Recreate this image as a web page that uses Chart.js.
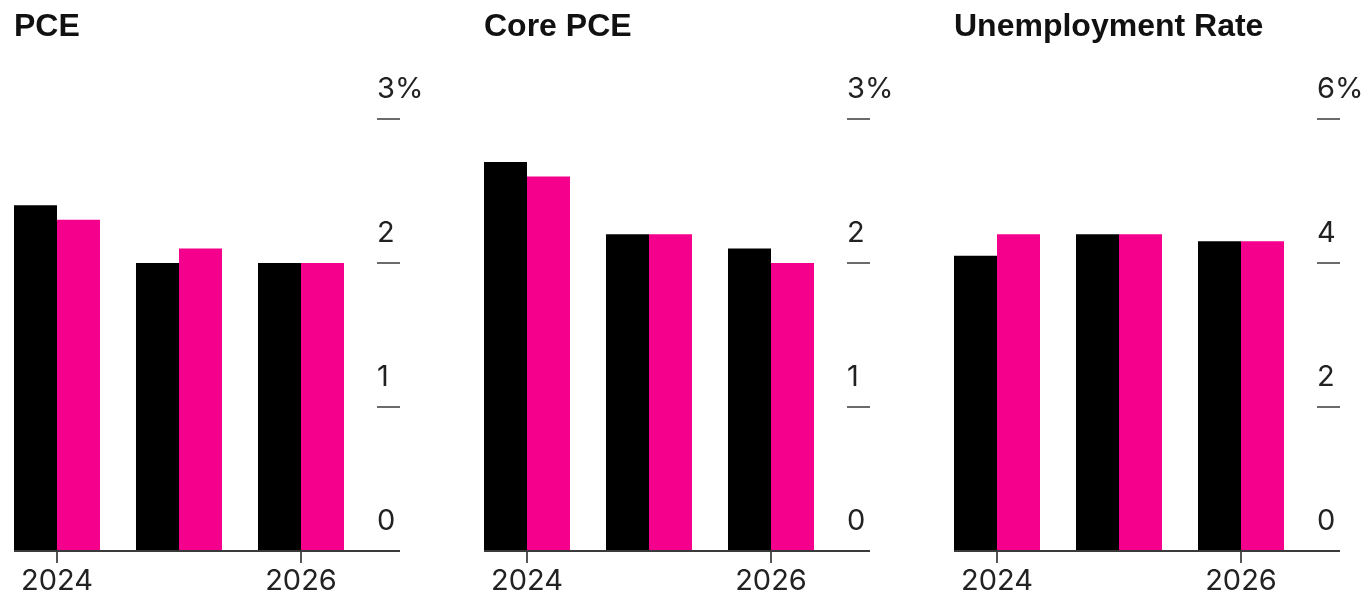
<!DOCTYPE html>
<html>
<head>
<meta charset="utf-8">
<script src="https://cdn.jsdelivr.net/npm/chart.js@4"></script>
<style>
  html, body { margin: 0; padding: 0; background: #ffffff; }
  #wrap { position: relative; width: 1371px; height: 596px; overflow: hidden; }
  .panel { position: absolute; top: 0; }
</style>
</head>
<body>
<div id="wrap">
  <canvas id="c1" class="panel" width="470" height="596" style="left:0px"></canvas>
  <canvas id="c2" class="panel" width="470" height="596" style="left:470px"></canvas>
  <canvas id="c3" class="panel" width="431" height="596" style="left:940px"></canvas>
</div>
<script>
// ---- data ----
const years = [2024, 2025, 2026];
const xTickYears = [2024, 2026];

const pceBlack = [2.4, 2.0, 2.0];
const pcePink  = [2.3, 2.1, 2.0];

const corePceBlack = [2.7, 2.2, 2.1];
const corePcePink  = [2.6, 2.2, 2.0];

const unempBlack = [4.1, 4.4, 4.3];
const unempPink  = [4.4, 4.4, 4.3];

const inflationTicks = [0, 1, 2, 3];
const inflationTickLabels = ['0', '1', '2', '3%'];
const unempTicks = [0, 2, 4, 6];
const unempTickLabels = ['0', '2', '4', '6%'];

const seriesNames = ['Earlier estimate', 'Latest estimate'];

// ---- styling ----
const BLACK = '#000000';
const PINK = '#F4008C';
const AXIS_RIGHT = 377;   // chart area right edge inside each canvas
const LEFT_PAD = 14;
const CAT_PX = 122;       // desired distance between year centres
const FIRST_OFFSET = 43;  // distance from chart area left to first year centre

function makePanel(id, title, blackVals, pinkVals, ticks, tickLabels) {
  const canvas = document.getElementById(id);
  const cw = canvas.width;
  const areaW = AXIS_RIGHT - LEFT_PAD;
  const xMin = years[0] - FIRST_OFFSET / CAT_PX;
  const xMax = xMin + areaW / CAT_PX;
  const yMax = ticks[ticks.length - 1];
  const yStep = ticks[1] - ticks[0];

  new Chart(canvas, {
    type: 'bar',
    data: {
      datasets: [
        { label: seriesNames[0], data: years.map((y, i) => ({ x: y, y: blackVals[i] })), backgroundColor: BLACK, borderWidth: 0 },
        { label: seriesNames[1], data: years.map((y, i) => ({ x: y, y: pinkVals[i] })), backgroundColor: PINK, borderWidth: 0 }
      ]
    },
    options: {
      responsive: false,
      animation: false,
      events: [],
      layout: { padding: { left: LEFT_PAD, right: 0, top: 0, bottom: 0 } },
      datasets: { bar: { categoryPercentage: 0.705, barPercentage: 1.0 } },
      plugins: {
        legend: { display: false },
        tooltip: { enabled: false },
        title: {
          display: true,
          text: title,
          align: 'start',
          color: '#111111',
          font: { family: '"Liberation Sans", Arial, sans-serif', size: 32, weight: 'bold', lineHeight: 1.2 },
          padding: { top: 8, bottom: 72.5 }
        }
      },
      scales: {
        x: {
          type: 'linear',
          min: xMin,
          max: xMax,
          offset: false,
          border: { display: false },
          grid: {
            offset: false,
            drawOnChartArea: false,
            drawTicks: true,
            tickLength: 12,
            tickColor: '#555555',
            lineWidth: 2
          },
          ticks: {
            stepSize: 2,
            includeBounds: false,
            autoSkip: false,
            maxRotation: 0,
            padding: 4,
            color: '#222222',
            font: { family: 'Inter, "Liberation Sans", sans-serif', size: 29, lineHeight: 1.0 },
            callback: (v) => xTickYears.includes(v) ? String(v) : ''
          },
          afterFit: (s) => { s.height = 45; }
        },
        y: {
          position: 'right',
          min: 0,
          max: yMax,
          border: { display: false },
          grid: {
            drawOnChartArea: true,
            drawTicks: true,
            tickLength: 23,
            lineWidth: 2,
            color: (ctx) => (ctx.tick && ctx.tick.value === 0) ? '#3a3a3a' : 'rgba(0,0,0,0)',
            tickColor: (ctx) => (ctx.tick && ctx.tick.value === 0) ? '#3a3a3a' : '#6b6b6b'
          },
          ticks: {
            stepSize: yStep,
            padding: -23,
            labelOffset: -30,
            color: '#222222',
            font: { family: 'Inter, "Liberation Sans", sans-serif', size: 29, lineHeight: 1.0 },
            callback: (v) => {
              const i = ticks.indexOf(v);
              return i >= 0 ? tickLabels[i] : '';
            }
          },
          afterFit: (s) => { s.width = cw - AXIS_RIGHT; }
        }
      }
    }
  });
}

makePanel('c1', 'PCE', pceBlack, pcePink, inflationTicks, inflationTickLabels);
makePanel('c2', 'Core PCE', corePceBlack, corePcePink, inflationTicks, inflationTickLabels);
makePanel('c3', 'Unemployment Rate', unempBlack, unempPink, unempTicks, unempTickLabels);
</script>
</body>
</html>
